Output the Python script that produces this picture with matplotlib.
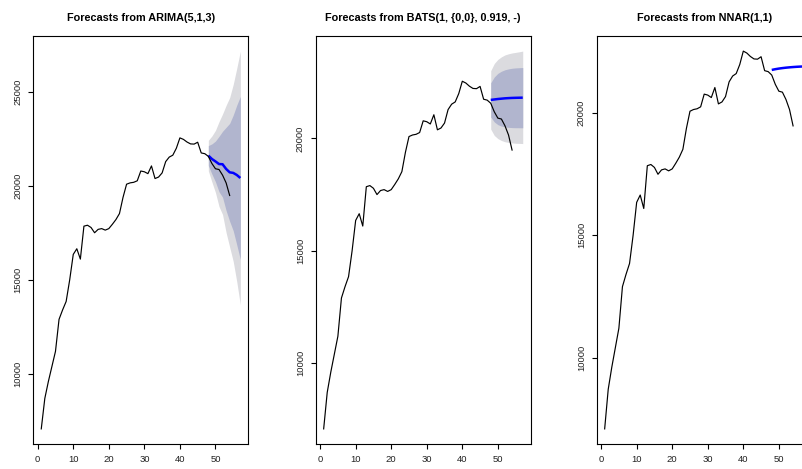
import numpy as np
import matplotlib
matplotlib.use("Agg")
import matplotlib.pyplot as plt
from matplotlib.ticker import MultipleLocator

plt.rcParams['font.family'] = ['Liberation Sans', 'DejaVu Sans']

# observed series, t = 1..54 (models fitted on 1..47, the rest is the hold-out)
t_obs = np.arange(1, 55)
obs = [7080, 8700, 9600, 10400, 11200, 12900, 13400, 13850, 15000, 16350,
       16650, 16100, 17850, 17900, 17780, 17500, 17680, 17720, 17640, 17720,
       17950, 18200, 18520, 19380, 20080, 20150, 20180, 20260, 20780, 20740,
       20640, 21050, 20380, 20460, 20680, 21280, 21520, 21620, 21990, 22540,
       22460, 22320, 22220, 22210, 22310, 21740, 21700, 21560, 21180, 20900,
       20860, 20560, 20150, 19480]
n_train = 47

# forecast horizon t = 48..57
t_fc = np.arange(48, 58)

# ARIMA(5,1,3)
arima_mean = [21600, 21420, 21290, 21150, 21140, 20890, 20710, 20680, 20570, 20410]
arima_hi80 = [22130, 22220, 22370, 22620, 22890, 23100, 23310, 23750, 24280, 24740]
arima_lo80 = [21070, 20620, 20210, 19680, 19390, 18680, 18110, 17610, 16860, 16080]
arima_hi95 = [22410, 22640, 22940, 23400, 23810, 24270, 24680, 25380, 26240, 27150]
arima_lo95 = [20790, 20200, 19640, 18900, 18470, 17510, 16740, 15980, 14900, 13670]

# BATS(1, {0,0}, 0.919, -)
bats_mean = [21710, 21730, 21750, 21765, 21780, 21790, 21798, 21803, 21807, 21810]
bats_hi80 = [22470, 22730, 22890, 22985, 23050, 23090, 23118, 23133, 23142, 23150]
bats_lo80 = [20950, 20730, 20610, 20545, 20510, 20490, 20478, 20473, 20472, 20470]
bats_hi95 = [23010, 23330, 23510, 23625, 23710, 23760, 23798, 23823, 23850, 23880]
bats_lo95 = [20410, 20130, 19990, 19905, 19850, 19820, 19798, 19783, 19777, 19770]

# NNAR(1,1) - no intervals
nnar_mean = [21770, 21800, 21825, 21845, 21862, 21876, 21888, 21898, 21906, 21913]

titles = ["Forecasts from ARIMA(5,1,3)",
          "Forecasts from BATS(1, {0,0}, 0.919, -)",
          "Forecasts from NNAR(1,1)"]

c95 = '#DBDBDF'
c80 = '#B1B5CE'

W, H = 802, 469
fig = plt.figure(figsize=(W / 100, H / 100), dpi=100)

lefts = [33.3, 315.7, 596.7]
bands = [(arima_lo95, arima_hi95, arima_lo80, arima_hi80),
         (bats_lo95, bats_hi95, bats_lo80, bats_hi80),
         None]
means = [arima_mean, bats_mean, nnar_mean]

for left, title, mean, band in zip(lefts, titles, means, bands):
    ax = fig.add_axes([left / W, 25 / H, 215 / W, 408 / H])

    if band is not None:
        lo95, hi95, lo80, hi80 = band
        ax.fill_between(t_fc, lo95, hi95, color=c95, lw=0)
        ax.fill_between(t_fc, lo80, hi80, color=c80, lw=0)
    ax.plot(t_fc, mean, color='#0000FF', lw=1.8, solid_capstyle='butt')
    ax.plot(t_obs, obs, color='black', lw=0.85)

    # R-like limits: range of training data + forecast, padded 4%
    vals = list(obs[:n_train]) + list(mean)
    if band is not None:
        for b in band:
            vals += list(b)
    lo, hi = min(vals), max(vals)
    pad = 0.04 * (hi - lo)
    ax.set_ylim(lo - pad, hi + pad)
    xpad = 0.04 * (t_fc[-1] - 1)
    ax.set_xlim(1 - xpad, t_fc[-1] + xpad)

    ax.xaxis.set_major_locator(MultipleLocator(10))
    ax.yaxis.set_major_locator(MultipleLocator(5000))
    ax.tick_params(direction='out', length=3.6, width=0.8, color='black',
                   labelsize=6.8, labelcolor='#222222')
    ax.tick_params(axis='x', pad=4.5)
    ax.tick_params(axis='y', pad=4.2)
    for lab in ax.get_yticklabels():
        lab.set_rotation(90)
        lab.set_va('center')
    for s in ax.spines.values():
        s.set_linewidth(0.8)
        s.set_color('black')

    ax.set_title(title, fontsize=7.8, fontweight='bold', pad=10.5)

fig.savefig('out.png', dpi=100)
